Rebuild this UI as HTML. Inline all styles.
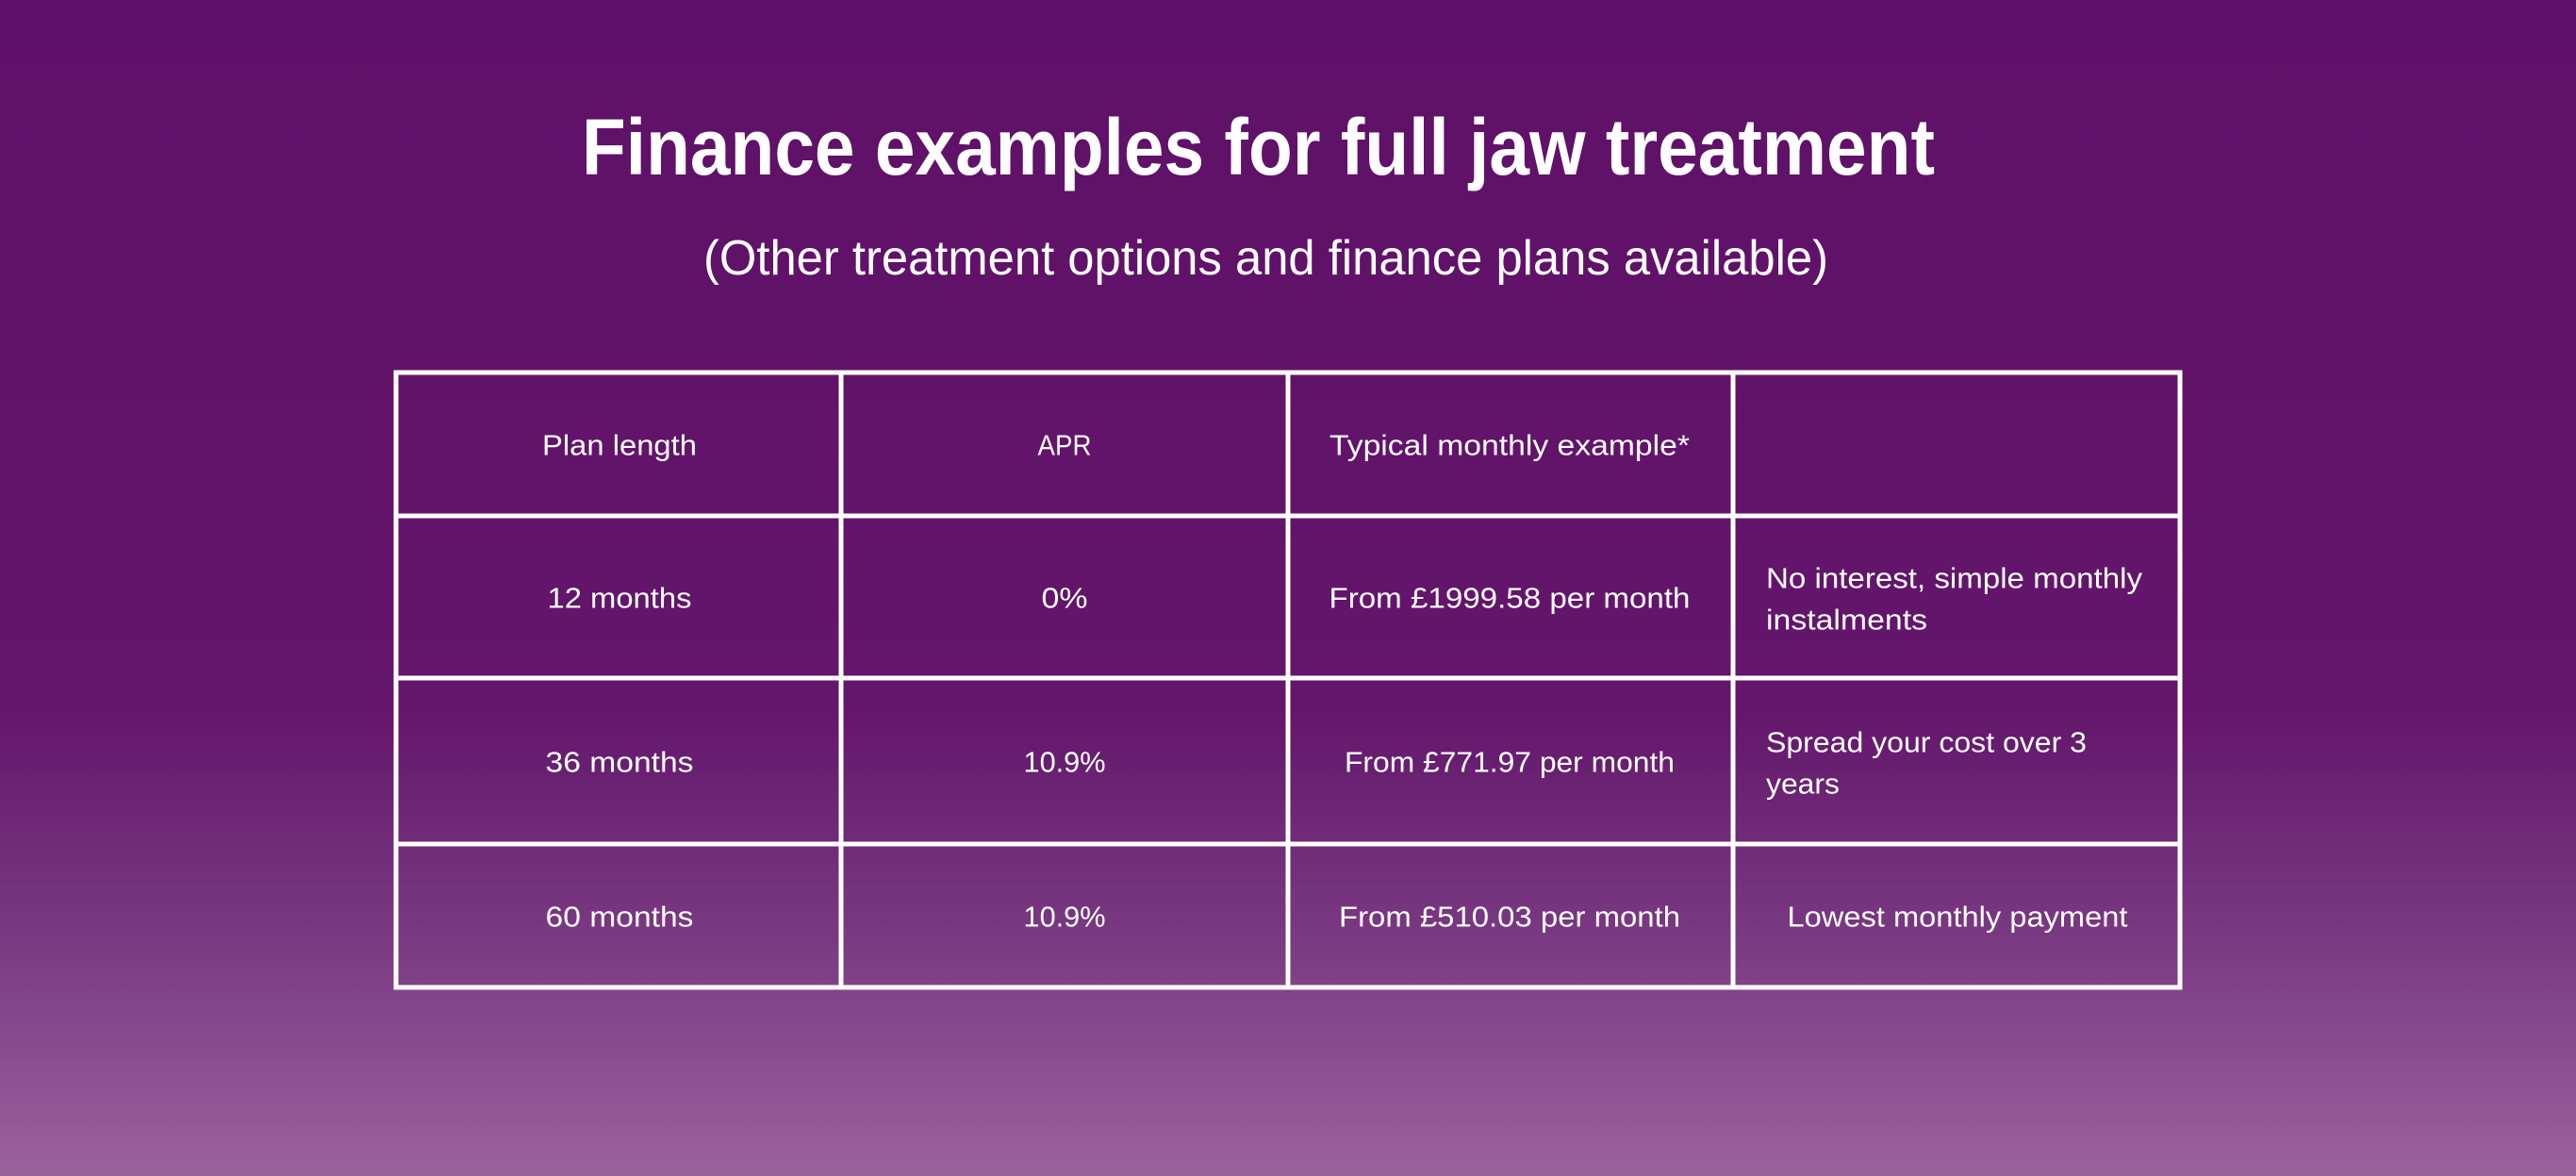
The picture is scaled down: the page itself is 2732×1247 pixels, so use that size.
<!DOCTYPE html>
<html><head><meta charset="utf-8"><style>
html,body{margin:0;padding:0;width:2732px;height:1247px;overflow:hidden}
svg{display:block}
text{font-family:"Liberation Sans",sans-serif;fill:#fff}
</style></head><body>
<svg width="2732" height="1247" viewBox="0 0 2732 1247">
<defs><linearGradient id="bg" x1="0" y1="0" x2="0" y2="1">
<stop offset="0" stop-color="#5f1068"/><stop offset="0.6" stop-color="#63166b"/>
<stop offset="0.8" stop-color="#7a3a82"/><stop offset="1" stop-color="#9a629d"/></linearGradient></defs>
<rect width="2732" height="1247" fill="url(#bg)"/>
<text x="617" y="185" font-size="84" font-weight="bold" textLength="1435" lengthAdjust="spacingAndGlyphs">Finance examples for full jaw treatment</text>
<text x="746" y="291" font-size="52" textLength="1193" lengthAdjust="spacingAndGlyphs">(Other treatment options and finance plans available)</text>
<g stroke="#fff" stroke-width="5" fill="none">
<rect x="420" y="395" width="1892" height="652"/>
<line x1="892" y1="395" x2="892" y2="1047"/><line x1="1366" y1="395" x2="1366" y2="1047"/><line x1="1838" y1="395" x2="1838" y2="1047"/>
<line x1="420" y1="547" x2="2312" y2="547"/><line x1="420" y1="719" x2="2312" y2="719"/><line x1="420" y1="895" x2="2312" y2="895"/>
</g>
<g font-size="31" dominant-baseline="central" text-anchor="middle">
<text x="657" y="472" textLength="164" lengthAdjust="spacingAndGlyphs">Plan length</text>
<text x="1129" y="472" textLength="57" lengthAdjust="spacingAndGlyphs">APR</text>
<text x="1601" y="472" textLength="382" lengthAdjust="spacingAndGlyphs">Typical monthly example*</text>
<text x="657" y="634" textLength="153" lengthAdjust="spacingAndGlyphs">12 months</text>
<text x="1129" y="634" textLength="49" lengthAdjust="spacingAndGlyphs">0%</text>
<text x="1601" y="634" textLength="383" lengthAdjust="spacingAndGlyphs">From £1999.58 per month</text>
<text x="657" y="808" textLength="157" lengthAdjust="spacingAndGlyphs">36 months</text>
<text x="1129" y="808" textLength="87" lengthAdjust="spacingAndGlyphs">10.9%</text>
<text x="1601" y="808" textLength="350" lengthAdjust="spacingAndGlyphs">From £771.97 per month</text>
<text x="657" y="972" textLength="157" lengthAdjust="spacingAndGlyphs">60 months</text>
<text x="1129" y="972" textLength="87" lengthAdjust="spacingAndGlyphs">10.9%</text>
<text x="1601" y="972" textLength="362" lengthAdjust="spacingAndGlyphs">From £510.03 per month</text>
<text x="2076" y="972" textLength="361" lengthAdjust="spacingAndGlyphs">Lowest monthly payment</text>
</g>
<g font-size="31" dominant-baseline="central">
<text x="1873" y="613" textLength="399" lengthAdjust="spacingAndGlyphs">No interest, simple monthly</text>
<text x="1873" y="657" textLength="171" lengthAdjust="spacingAndGlyphs">instalments</text>
<text x="1873" y="787" textLength="340" lengthAdjust="spacingAndGlyphs">Spread your cost over 3</text>
<text x="1873" y="831" textLength="78" lengthAdjust="spacingAndGlyphs">years</text>
</g>
</svg>
</body></html>
